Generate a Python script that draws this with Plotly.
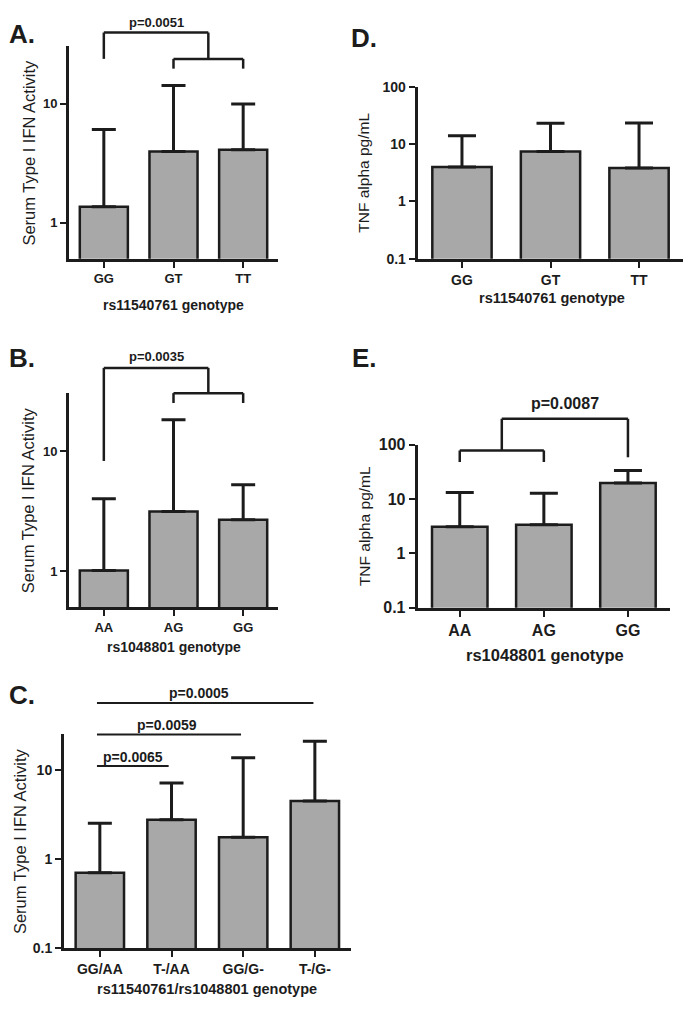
import plotly.graph_objects as go

# ---------------- data ----------------
A_cats = ["GG", "GT", "TT"]
A_mean = [1.37, 3.99, 4.12]
A_err = [4.73, 10.31, 5.88]

B_cats = ["AA", "AG", "GG"]
B_mean = [1.01, 3.13, 2.68]
B_err = [2.99, 15.17, 2.57]

C_cats = ["GG/AA", "T-/AA", "GG/G-", "T-/G-"]
C_mean = [0.70, 2.76, 1.75, 4.47]
C_err = [1.82, 4.37, 11.95, 16.53]

D_cats = ["GG", "GT", "TT"]
D_mean = [3.98, 7.40, 3.83]
D_err = [9.92, 15.60, 19.47]

E_cats = ["AA", "AG", "GG"]
E_mean = [3.08, 3.35, 19.70]
E_err = [10.12, 9.35, 13.70]

# ---------------- layout helpers ----------------
W, H = 695, 1014
FONT = "Liberation Sans, Arial, sans-serif"
INK = "#1c1c1c"
FILL = "#a8a8a8"


def dom(x0, x1, y0, y1):
    """pixel box (left, right, top, bottom) -> paper domains"""
    return [x0 / W, x1 / W], [1 - y1 / H, 1 - y0 / H]


panels = [
    dict(cats=A_cats, mean=A_mean, err=A_err, box=(69, 278, 39, 255),
         yr=[-0.301, 1.484], tv=[1, 10], ts=13, bw=0.69, cw=12),
    dict(cats=B_cats, mean=B_mean, err=B_err, box=(69, 278, 391.7, 609.3),
         yr=[-0.301, 1.484], tv=[1, 10], ts=13, bw=0.69, cw=12),
    dict(cats=C_cats, mean=C_mean, err=C_err, box=(64, 350.7, 738.3, 956),
         yr=[-1, 1.405], tv=[0.1, 1, 10], ts=14, bw=0.675, cw=12),
    dict(cats=D_cats, mean=D_mean, err=D_err, box=(417.7, 683.3, 80, 255),
         yr=[-1, 2], tv=[0.1, 1, 10, 100], ts=14, bw=0.67, cw=14),
    dict(cats=E_cats, mean=E_mean, err=E_err, box=(417.7, 670, 444, 610),
         yr=[-1, 2], tv=[0.1, 1, 10, 100], ts=16, bw=0.66, cw=14),
]

fig = go.Figure()
layout = dict(
    width=W, height=H, margin=dict(l=0, r=0, t=0, b=0),
    paper_bgcolor="white", plot_bgcolor="white", showlegend=False,
    font=dict(family=FONT, color=INK),
)

for i, p in enumerate(panels, start=1):
    xa = "x" if i == 1 else f"x{i}"
    ya = "y" if i == 1 else f"y{i}"
    fig.add_trace(go.Bar(
        x=p["cats"], y=p["mean"], width=p["bw"],
        marker=dict(color=FILL, line=dict(color=INK, width=2.5)),
        error_y=dict(type="data", symmetric=False, array=p["err"],
                     arrayminus=[0] * len(p["err"]), thickness=3,
                     width=p["cw"], color=INK),
        xaxis=xa, yaxis=ya, hoverinfo="skip",
    ))
    xd, yd = dom(*p["box"])
    key = "" if i == 1 else str(i)
    layout["xaxis" + key] = dict(
        domain=xd, anchor=ya, type="category", range=[-0.5, len(p["cats"]) - 0.5],
        showline=True, linecolor=INK, linewidth=3, ticks="outside",
        ticklen=6, tickwidth=2, tickcolor=INK, showgrid=False, zeroline=False,
        tickfont=dict(family=FONT, size=p["ts"], weight="bold", color=INK),
        fixedrange=True,
    )
    layout["yaxis" + key] = dict(
        domain=yd, anchor=xa, type="log", range=p["yr"],
        tickvals=p["tv"], ticktext=[f"{v:g}" for v in p["tv"]],
        showline=True, linecolor=INK, linewidth=3, ticks="outside",
        ticklen=6, tickwidth=2, tickcolor=INK, showgrid=False, zeroline=False,
        tickfont=dict(family=FONT, size=p["ts"], weight="bold", color=INK),
        fixedrange=True,
    )

fig.update_layout(**layout)

ann = []
shapes = []


def txt(text, xref, yref, x, y, size, bold=True, angle=0):
    ann.append(dict(text=text, xref=xref, yref=yref, x=x, y=y, showarrow=False,
                    xanchor="center", yanchor="middle", textangle=angle,
                    font=dict(family=FONT, size=size, color=INK,
                              weight="bold" if bold else "normal")))


def seg(xref, yref, x0, y0, x1, y1, w=2.5):
    shapes.append(dict(type="line", xref=xref, yref=yref, x0=x0, y0=y0, x1=x1, y1=y1,
                       line=dict(color=INK, width=w)))


# axis titles
txt("rs11540761 genotype", "x domain", "y domain", 0.5, -0.218, 14)
txt("Serum Type I IFN Activity", "x domain", "y domain", -0.196, 0.5, 16.5, bold=False, angle=-90)
txt("rs1048801 genotype", "x2 domain", "y2 domain", 0.5, -0.187, 14)
txt("Serum Type I IFN Activity", "x2 domain", "y2 domain", -0.196, 0.5, 16.5, bold=False, angle=-90)
txt("rs11540761/rs1048801 genotype", "x3 domain", "y3 domain", 0.5, -0.193, 14.5)
txt("Serum Type I IFN Activity", "x3 domain", "y3 domain", -0.153, 0.5, 16.5, bold=False, angle=-90)
txt("rs11540761 genotype", "x4 domain", "y4 domain", 0.505, -0.229, 14.5)
txt("TNF alpha pg/mL", "x4 domain", "y4 domain", -0.202, 0.5, 15.5, bold=False, angle=-90)
txt("rs1048801 genotype", "x5 domain", "y5 domain", 0.505, -0.289, 16.5)
txt("TNF alpha pg/mL", "x5 domain", "y5 domain", -0.213, 0.5, 15.5, bold=False, angle=-90)

# panel letters
for lab, px, py in [("A.", 22, 26), ("B.", 22, 356), ("C.", 22, 699), ("D.", 364, 31), ("E.", 364, 356)]:
    txt(lab, "paper", "paper", px / W, 1 - py / H, 26)

# panel A significance bracket
txt("p=0.0051", "x", "y domain", 0.75, 1.111, 13)
seg("x", "y domain", 0, 0.941, 0, 1.065)
seg("x", "y domain", 0, 1.065, 1.5, 1.065)
seg("x", "y domain", 1.5, 1.065, 1.5, 0.941)
seg("x", "y domain", 1, 0.941, 2, 0.941)
seg("x", "y domain", 1, 0.941, 1, 0.895)
seg("x", "y domain", 2, 0.941, 2, 0.895)

# panel B significance bracket
txt("p=0.0035", "x2", "y2 domain", 0.76, 1.169, 13)
seg("x2", "y2 domain", 0, 0.683, 0, 1.118)
seg("x2", "y2 domain", 0, 1.118, 1.5, 1.118)
seg("x2", "y2 domain", 1.5, 1.118, 1.5, 1.0)
seg("x2", "y2 domain", 1, 1.0, 2, 1.0)
seg("x2", "y2 domain", 1, 1.0, 1, 0.954)
seg("x2", "y2 domain", 2, 1.0, 2, 0.954)

# panel C comparison lines
seg("x3", "y3 domain", -0.04, 0.85, 0.96, 0.85, 2)
txt("p=0.0065", "x3", "y3 domain", 0.467, 0.8925, 14)
seg("x3", "y3 domain", -0.04, 0.997, 1.97, 0.997, 2)
txt("p=0.0059", "x3", "y3 domain", 0.933, 1.043, 14)
seg("x3", "y3 domain", -0.04, 1.144, 2.98, 1.144, 2)
txt("p=0.0005", "x3", "y3 domain", 1.386, 1.191, 14)

# panel E significance bracket
txt("p=0.0087", "x5", "y5 domain", 1.25, 1.249, 16)
seg("x5", "y5 domain", 0, 0.893, 0, 0.964)
seg("x5", "y5 domain", 0, 0.964, 1, 0.964)
seg("x5", "y5 domain", 1, 0.964, 1, 0.893)
seg("x5", "y5 domain", 0.5, 0.964, 0.5, 1.158)
seg("x5", "y5 domain", 0.5, 1.158, 2, 1.158)
seg("x5", "y5 domain", 2, 1.158, 2, 0.922)

fig.update_layout(annotations=ann, shapes=shapes)
fig.write_html(
    "out.html",
    config={"displayModeBar": False},
    post_script="document.body.style.margin='0';document.body.style.overflow='hidden';",
)
